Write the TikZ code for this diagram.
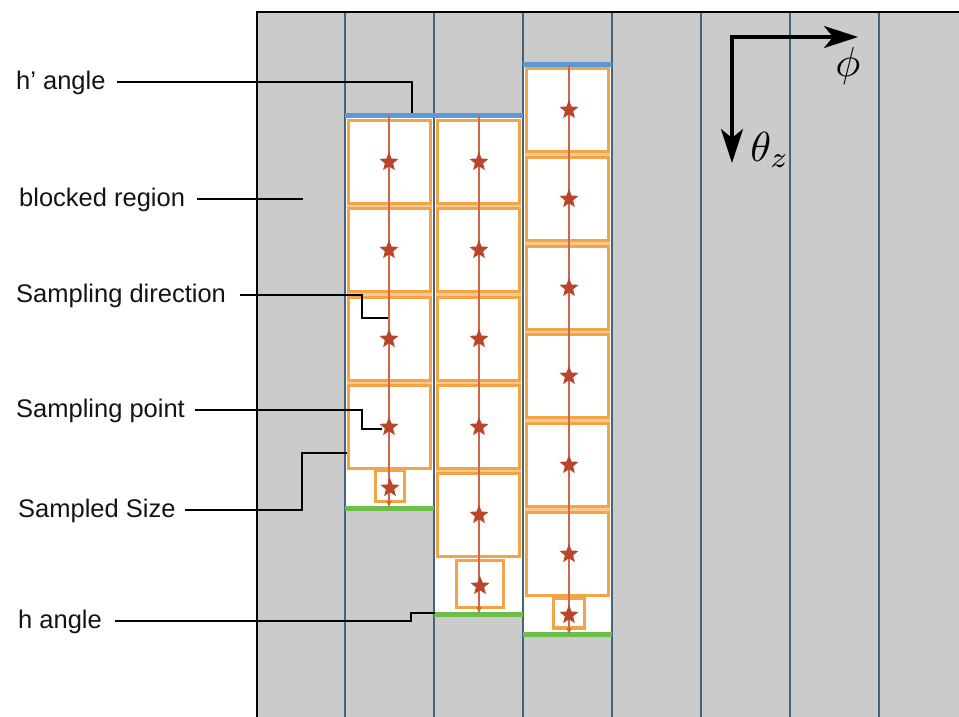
\documentclass[tikz,border=0pt]{standalone}
\usepackage{fontspec}
\setmainfont{Liberation Sans}
\usetikzlibrary{shapes.geometric,arrows.meta}
\definecolor{bggray}{HTML}{CBCBCB}
\definecolor{colline}{HTML}{45647A}
\definecolor{boxorange}{HTML}{F2A446}
\definecolor{lightorange}{HTML}{F8C891}
\definecolor{redline}{HTML}{D0654A}
\definecolor{starred}{HTML}{B8452C}
\definecolor{hblue}{HTML}{5B9BD5}
\definecolor{hgreen}{HTML}{6CC04A}
\definecolor{txt}{HTML}{141414}
\begin{document}
\begin{tikzpicture}[x=1pt,y=-1pt,
  sbox/.style={draw=boxorange, line width=3.8pt, fill=white, minimum width=82pt, minimum height=83pt, inner sep=0pt},
  smallbox/.style={draw=boxorange, line width=3.5pt, fill=white, inner sep=0pt},
  sstar/.style={star, star points=5, star point ratio=2.3, fill=starred, draw=none, inner sep=0pt, minimum size=20pt},
  colsep/.style={draw=colline, line width=2pt},
  dirline/.style={draw=redline, line width=1.5pt, -{Latex[length=7pt,width=6pt]}},
  hprime/.style={draw=hblue, line width=5pt},
  hline/.style={draw=hgreen, line width=5pt},
  leader/.style={draw=black, line width=2.6pt},
  lbl/.style={anchor=base west, inner sep=0pt, text=txt, font=\fontsize{25.5}{30}\selectfont},
  axis/.style={draw=black, line width=3.2pt, {Stealth[length=34pt,width=22pt,inset=9pt]}-{Stealth[length=34pt,width=22pt,inset=9pt]}},
  mathlbl/.style={inner sep=0pt, scale=4.2}
]
\useasboundingbox (0,0) rectangle (959,717);
\fill[white] (0,0) rectangle (959,717);
% gray field
\fill[bggray] (257,12) rectangle (959,717);
% white sampled regions
\fill[white] (345,115) rectangle (434,508);
\fill[white] (434,115) rectangle (523,614);
\fill[white] (523,65) rectangle (612,635);
% light orange bands between stacked boxes
\foreach \y in {206,294,383}
  \fill[lightorange] (347,\y-4) rectangle (432,\y+4);
\foreach \y in {206,294,383,471}
  \fill[lightorange] (436,\y-4) rectangle (521,\y+4);
\foreach \y in {154.5,243.5,332,420.5,509.5}
  \fill[lightorange] (525,\y-4) rectangle (610,\y+4);
% column separators
\foreach \x in {345,434,523,612,701,790,879}
  \draw[colsep] (\x,12) -- (\x,717);
% boxes column 1
\foreach \i/\y in {1/162,2/250,3/339,4/427}
  \node[sbox] (c1b\i) at (389.5,\y) {};
\node[smallbox, minimum width=29pt, minimum height=31pt] (c1s) at (390,486) {};
% boxes column 2
\foreach \i/\y in {1/162,2/250,3/339,4/427,5/515}
  \node[sbox] (c2b\i) at (478.5,\y) {};
\node[smallbox, minimum width=47pt, minimum height=47pt] (c2s) at (480,584) {};
% boxes column 3
\foreach \i/\y in {1/110,2/199,3/288,4/376,5/465,6/554}
  \node[sbox] (c3b\i) at (567.5,\y) {};
\node[smallbox, minimum width=31pt, minimum height=30pt] (c3s) at (569,613) {};
% h' and h angle lines
\coordinate (c1top) at (389,115);
\coordinate (c2top) at (479,115);
\coordinate (c3top) at (569,65);
\coordinate (c1bot) at (389,508);
\coordinate (c2bot) at (479,614);
\coordinate (c3bot) at (569,635);
\draw[hprime] (345,115) -- (523,115);
\draw[hprime] (523,65) -- (612,65);
\draw[hline] (345,508) -- (434,508);
\draw[hline] (434,614) -- (523,614);
\draw[hline] (523,634) -- (612,634);
% sampling directions
\draw[dirline] (c1top) -- (c1bot);
\draw[dirline] (c2top) -- (c2bot);
\draw[dirline] (c3top) -- (c3bot);
% stars
\foreach \i/\y in {1/162,2/250,3/339,4/427}
  \node[sstar] (c1p\i) at (389,\y) {};
\node[sstar] (c1ps) at (390,488) {};
\foreach \i/\y in {1/162,2/250,3/339,4/427,5/515}
  \node[sstar] (c2p\i) at (479,\y) {};
\node[sstar] (c2ps) at (480,586) {};
\foreach \i/\y in {1/110,2/199,3/288,4/376,5/465,6/554}
  \node[sstar] (c3p\i) at (569,\y) {};
\node[sstar] (c3ps) at (569,615) {};
% border
\draw[black, line width=2.6pt] (257,717) -- (257,12) -- (959,12);
% labels
\node[lbl] (lhp) at (16,89) {h’ angle};
\node[lbl] (lbr) at (19,206) {blocked region};
\node[lbl] (lsd) at (16,302) {Sampling direction};
\node[lbl] (lsp) at (16,417) {Sampling point};
\node[lbl] (lss) at (18,517) {Sampled Size};
\node[lbl] (lha) at (18,628) {h angle};
% leader lines
\coordinate (hps) at (117,82);   \coordinate (hpe) at (412,113);
\coordinate (brs) at (197,199);  \coordinate (bre) at (303,199);
\coordinate (sds) at (240,295);  \coordinate (sde) at (388,318);
\coordinate (sps) at (195,410);  \coordinate (spe) at (382,429);
\coordinate (sss) at (185,510);  \coordinate (sse) at (347,453);
\coordinate (has) at (115,621);  \coordinate (hae) at (435,613);
\draw[leader] (hps) -| (hpe);
\draw[leader] (brs) -- (bre);
\draw[leader] (sds) -- (362,295) |- (sde);
\draw[leader] (sps) -- (362,410) |- (spe);
\draw[leader] (sss) -- (302,510) |- (sse);
\draw[leader] (has) -- (411,621) |- (hae);
% axes
\coordinate (axo) at (732,37);
\coordinate (axphi) at (858,37);
\coordinate (axth) at (732,163);
\draw[axis] (axphi) -- (axo) -- (axth);
\node[mathlbl] (lphi) at (848,66) {$\phi$};
\node[mathlbl] (ltheta) at (770,150) {$\theta_z$};
\end{tikzpicture}
\end{document}
